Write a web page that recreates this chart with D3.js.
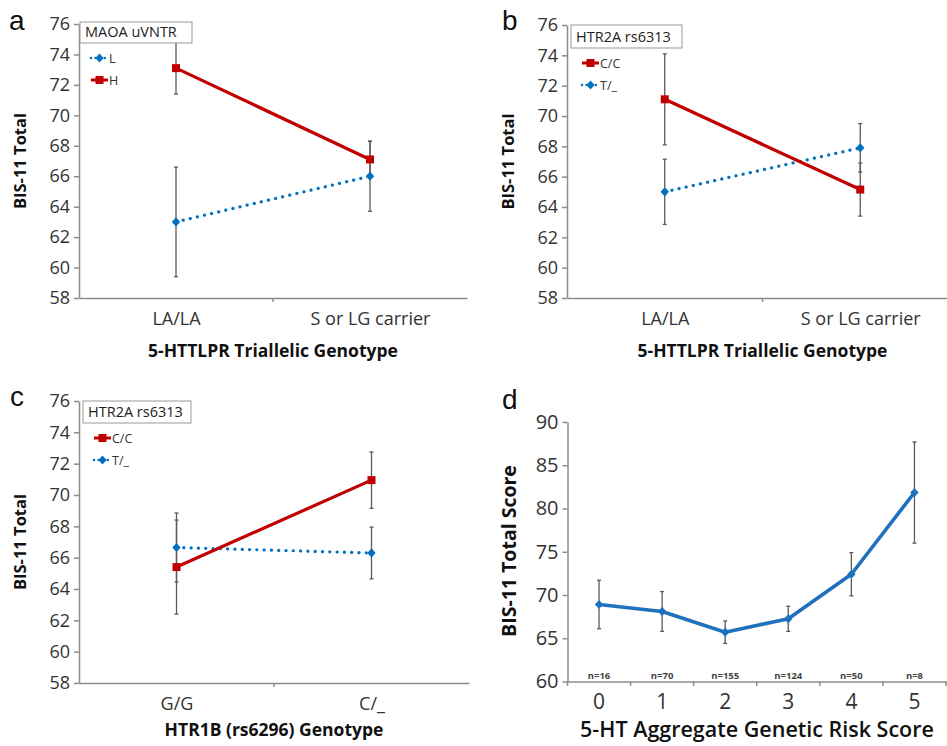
<!DOCTYPE html>
<html>
<head>
<meta charset="utf-8">
<script src="https://cdnjs.cloudflare.com/ajax/libs/d3/7.8.5/d3.min.js"></script>
<style>
  body { margin: 0; background: #fff; }
  svg { display: block; font-family: "Open Sans", sans-serif; }
</style>
</head>
<body>
<div id="fig"></div>
<script>
// ---- data ----
var genoCats = ["LA/LA", "S or LG carrier"];
var htr1bCats = ["G/G", "C/_"];
var bisTicks = [58, 60, 62, 64, 66, 68, 70, 72, 74, 76];

// panel a: MAOA uVNTR
var aLMean = [63.0, 66.0];
var aLErr = [3.6, 2.3];
var aHMean = [73.1, 67.1];
var aHErr = [1.7, 1.2];

// panel b: HTR2A rs6313 x 5-HTTLPR
var bCCMean = [71.1, 65.15];
var bCCErr = [3.0, 1.75];
var bTMean = [65.0, 67.9];
var bTErr = [2.15, 1.6];

// panel c: HTR2A rs6313 x HTR1B
var cCCMean = [65.4, 70.95];
var cCCErr = [3.0, 1.8];
var cTMean = [66.65, 66.3];
var cTErr = [2.2, 1.65];

// panel d: aggregate score
var riskScores = ["0", "1", "2", "3", "4", "5"];
var riskMean = [68.9, 68.1, 65.7, 67.25, 72.4, 81.85];
var riskErr = [2.8, 2.3, 1.3, 1.45, 2.5, 5.85];
var riskN = ["n=16", "n=70", "n=155", "n=124", "n=50", "n=8"];
var riskTicks = [60, 65, 70, 75, 80, 85, 90];

var red = "#c00000";
var blue = "#0070c0";
var axisGrey = "#8c8c8c";
var errGrey = "#5a5a5a";
var textCol = "#333";

var svg = d3.select("#fig")
    .append("svg")
    .attr("width", 947)
    .attr("height", 746);

function styleAxis(g) {
    g.select(".domain").attr("stroke", axisGrey).attr("stroke-width", 1.5);
    g.selectAll(".tick line").attr("stroke", axisGrey).attr("stroke-width", 1.5);
    g.selectAll(".tick text").attr("fill", textCol).attr("font-family", "Open Sans");
}

function marker(g, type, color, cx, cy) {
    if (type === "square") {
        g.append("rect")
            .attr("x", cx - 4).attr("y", cy - 4)
            .attr("width", 8).attr("height", 8)
            .attr("fill", color);
    } else {
        g.append("path")
            .attr("d", `M${cx},${cy - 4.6}L${cx + 4.2},${cy}L${cx},${cy + 4.6}L${cx - 4.2},${cy}Z`)
            .attr("fill", color);
    }
}

// draws one of the small two-level interaction panels (a, b, c)
function drawPanel(p) {
    var g = svg.append("g");
    var x = d3.scalePoint().domain(p.cats).range([p.x0, p.x1]).padding(0.5);
    var y = d3.scaleLinear().domain([58, 76]).range([p.yBottom, p.yTop]);

    // y axis
    var yAxis = g.append("g")
        .attr("transform", `translate(${p.x0},0)`)
        .call(d3.axisLeft(y).tickValues(bisTicks).tickSize(5).tickSizeOuter(0).tickPadding(4));
    yAxis.selectAll(".tick text").attr("font-size", "18px");
    styleAxis(yAxis);

    // x axis
    var xAxis = g.append("g")
        .attr("transform", `translate(0,${p.yBottom})`)
        .call(d3.axisBottom(x).tickSize(0).tickSizeOuter(0).tickPadding(14));
    xAxis.selectAll(".tick text").attr("font-size", "18px");
    styleAxis(xAxis);
    g.append("line")
        .attr("x1", (p.x0 + p.x1) / 2).attr("x2", (p.x0 + p.x1) / 2)
        .attr("y1", p.yBottom).attr("y2", p.yBottom + 4)
        .attr("stroke", axisGrey).attr("stroke-width", 1.5);

    // error bars
    p.series.forEach(function(s) {
        s.mean.forEach(function(m, i) {
            var cx = x(p.cats[i]);
            var lo = y(m - s.err[i]), hi = y(m + s.err[i]);
            g.append("line").attr("x1", cx).attr("x2", cx).attr("y1", lo).attr("y2", hi)
                .attr("stroke", errGrey).attr("stroke-width", 1.3);
            [lo, hi].forEach(function(v) {
                g.append("line").attr("x1", cx - 2).attr("x2", cx + 2).attr("y1", v).attr("y2", v)
                    .attr("stroke", errGrey).attr("stroke-width", 1.3);
            });
        });
    });

    // lines + markers
    var line = d3.line().x((d, i) => x(p.cats[i])).y(d => y(d));
    p.series.forEach(function(s) {
        var path = g.append("path")
            .datum(s.mean)
            .attr("d", line)
            .attr("fill", "none")
            .attr("stroke", s.color)
            .attr("stroke-width", 3.2);
        if (s.dotted) path.attr("stroke-dasharray", "0.1 7.2").attr("stroke-linecap", "round");
        s.mean.forEach(function(m, i) { marker(g, s.marker, s.color, x(p.cats[i]), y(m)); });
    });

    // legend
    var lg = g.append("g");
    lg.append("rect")
        .attr("x", p.legend.x).attr("y", p.legend.y)
        .attr("width", p.legend.w).attr("height", p.legend.h)
        .attr("fill", "#fff").attr("stroke", "#999").attr("stroke-width", 1);
    lg.append("text")
        .attr("x", p.legend.x + 5).attr("y", p.legend.y + p.legend.h - 6)
        .attr("font-size", "14.5px").attr("fill", "#222")
        .text(p.legend.title);
    p.legend.order.forEach(function(s, k) {
        var ly = p.legend.y + p.legend.h + 15 + k * 22;
        var lx = p.legend.x + 11;
        var l = lg.append("line")
            .attr("x1", lx).attr("x2", lx + 17).attr("y1", ly).attr("y2", ly)
            .attr("stroke", s.color).attr("stroke-width", s.dotted ? 2.4 : 3);
        if (s.dotted) l.attr("stroke-dasharray", "0.1 4.5").attr("stroke-linecap", "round");
        marker(lg, s.marker, s.color, lx + 8.5, ly);
        lg.append("text")
            .attr("x", lx + 18).attr("y", ly + 4.5)
            .attr("font-size", "12.5px").attr("fill", "#333")
            .text(s.name);
    });

    // titles
    g.append("text")
        .attr("transform", `translate(${p.x0 - 53},${(p.yTop + p.yBottom) / 2}) rotate(-90)`)
        .attr("text-anchor", "middle")
        .attr("font-size", "16.5px").attr("font-weight", "bold").attr("fill", "#111")
        .text("BIS-11 Total");
    g.append("text")
        .attr("x", (p.x0 + p.x1) / 2).attr("y", p.yBottom + p.titleGap)
        .attr("text-anchor", "middle")
        .attr("font-size", "17.5px").attr("font-weight", "bold").attr("fill", "#111")
        .text(p.xTitle);
    g.append("text")
        .attr("x", p.letter[0]).attr("y", p.letter[1])
        .attr("font-family", "Liberation Sans").attr("font-size", "28px").attr("fill", "#111")
        .text(p.letter[2]);
}

var sAL = { name: "L", mean: aLMean, err: aLErr, color: blue, dotted: true, marker: "diamond" };
var sAH = { name: "H", mean: aHMean, err: aHErr, color: red, dotted: false, marker: "square" };
drawPanel({
    cats: genoCats, x0: 79, x1: 467, yTop: 24, yBottom: 298,
    series: [sAL, sAH],
    legend: { x: 80, y: 22, w: 112, h: 21, title: "MAOA uVNTR", order: [sAL, sAH] },
    xTitle: "5-HTTLPR Triallelic Genotype", titleGap: 59,
    letter: [9, 30, "a"]
});

var sBC = { name: "C/C", mean: bCCMean, err: bCCErr, color: red, dotted: false, marker: "square" };
var sBT = { name: "T/_", mean: bTMean, err: bTErr, color: blue, dotted: true, marker: "diamond" };
drawPanel({
    cats: genoCats, x0: 567, x1: 958, yTop: 25, yBottom: 298,
    series: [sBT, sBC],
    legend: { x: 571, y: 25, w: 111, h: 23, title: "HTR2A rs6313", order: [sBC, sBT] },
    xTitle: "5-HTTLPR Triallelic Genotype", titleGap: 59,
    letter: [502, 30, "b"]
});

var sCC = { name: "C/C", mean: cCCMean, err: cCCErr, color: red, dotted: false, marker: "square" };
var sCT = { name: "T/_", mean: cTMean, err: cTErr, color: blue, dotted: true, marker: "diamond" };
drawPanel({
    cats: htr1bCats, x0: 79, x1: 469, yTop: 401, yBottom: 683,
    series: [sCT, sCC],
    legend: { x: 83, y: 401, w: 108, h: 22, title: "HTR2A rs6313", order: [sCC, sCT] },
    xTitle: "HTR1B (rs6296) Genotype", titleGap: 53,
    letter: [10, 406, "c"]
});

// ---- panel d ----
var gd = svg.append("g");
var xd = d3.scaleBand().domain(riskScores).range([567.5, 946]);
var yd = d3.scaleLinear().domain([60, 90]).range([681.5, 422]);

var ydAxis = gd.append("g")
    .attr("transform", "translate(567.5,0)")
    .call(d3.axisLeft(yd).tickValues(riskTicks).tickSize(5).tickSizeOuter(0).tickPadding(4));
ydAxis.selectAll(".tick text").attr("font-size", "20px");
styleAxis(ydAxis);

var xdAxis = gd.append("g")
    .attr("transform", "translate(0,681.5)")
    .call(d3.axisBottom(xd).tickSize(0).tickSizeOuter(0).tickPadding(13));
xdAxis.selectAll(".tick text").attr("font-size", "21px");
styleAxis(xdAxis);
riskScores.forEach(function(s) {
    var bx = xd(s) + xd.bandwidth();
    gd.append("line").attr("x1", bx).attr("x2", bx).attr("y1", 681.5).attr("y2", 686)
        .attr("stroke", axisGrey).attr("stroke-width", 1.5);
});
gd.append("line").attr("x1", 567.5).attr("x2", 567.5).attr("y1", 681.5).attr("y2", 686)
    .attr("stroke", axisGrey).attr("stroke-width", 1.5);

riskMean.forEach(function(m, i) {
    var cx = xd(riskScores[i]) + xd.bandwidth() / 2;
    var lo = yd(m - riskErr[i]), hi = yd(m + riskErr[i]);
    gd.append("line").attr("x1", cx).attr("x2", cx).attr("y1", lo).attr("y2", hi)
        .attr("stroke", errGrey).attr("stroke-width", 1.3);
    [lo, hi].forEach(function(v) {
        gd.append("line").attr("x1", cx - 2).attr("x2", cx + 2).attr("y1", v).attr("y2", v)
            .attr("stroke", errGrey).attr("stroke-width", 1.3);
    });
});

var dLine = d3.line()
    .x((d, i) => xd(riskScores[i]) + xd.bandwidth() / 2)
    .y(d => yd(d));
gd.append("path")
    .datum(riskMean)
    .attr("d", dLine)
    .attr("fill", "none")
    .attr("stroke", "#1f71bd")
    .attr("stroke-width", 3.6)
    .attr("stroke-linejoin", "round");
riskMean.forEach(function(m, i) {
    marker(gd, "diamond", "#1f71bd", xd(riskScores[i]) + xd.bandwidth() / 2, yd(m));
});

riskN.forEach(function(n, i) {
    gd.append("text")
        .attr("x", xd(riskScores[i]) + xd.bandwidth() / 2).attr("y", 679)
        .attr("text-anchor", "middle")
        .attr("font-size", "9.5px").attr("font-weight", "bold").attr("fill", "#444")
        .text(n);
});

gd.append("text")
    .attr("transform", "translate(516,551) rotate(-90)")
    .attr("text-anchor", "middle")
    .attr("font-size", "19.5px").attr("font-weight", "bold").attr("fill", "#111")
    .text("BIS-11 Total Score");
gd.append("text")
    .attr("x", 757).attr("y", 737)
    .attr("text-anchor", "middle")
    .attr("font-size", "21.5px").attr("font-weight", 600).attr("fill", "#111")
    .text("5-HT Aggregate Genetic Risk Score");
gd.append("text")
    .attr("x", 502).attr("y", 409)
    .attr("font-family", "Liberation Sans").attr("font-size", "28px").attr("fill", "#111")
    .text("d");
</script>
</body>
</html>
